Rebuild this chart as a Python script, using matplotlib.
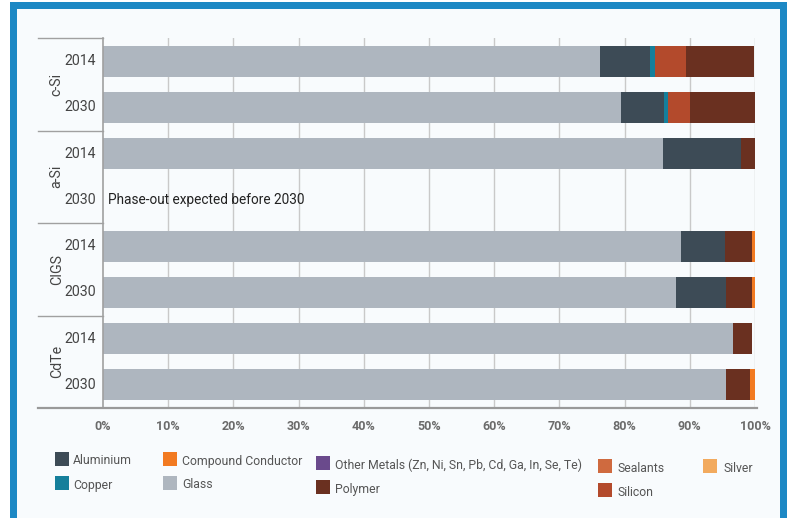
import matplotlib
matplotlib.use("Agg")
import matplotlib.pyplot as plt
from matplotlib.patches import Rectangle
import numpy as np

# ---- data ----
groups = ["c-Si", "a-Si", "CIGS", "CdTe"]
years = ["2014", "2030"]
row_labels = ["c-Si 2014", "c-Si 2030", "a-Si 2014", "a-Si 2030",
              "CIGS 2014", "CIGS 2030", "CdTe 2014", "CdTe 2030"]
glass = [76.2, 79.5, 85.9, 0, 88.6, 87.9, 96.7, 95.5]
aluminium = [7.7, 6.5, 11.9, 0, 6.8, 7.7, 0, 0]
copper = [0.8, 0.7, 0, 0, 0, 0, 0, 0]
silicon = [4.7, 3.4, 0, 0, 0, 0, 0, 0]
polymer = [10.4, 9.9, 2.2, 0, 4.2, 4.0, 2.9, 3.8]
compound_conductor = [0, 0, 0, 0, 0.4, 0.4, 0, 0.7]
other_metals = [0, 0, 0, 0, 0, 0, 0, 0]
sealants = [0, 0, 0, 0, 0, 0, 0, 0]
silver = [0, 0, 0, 0, 0, 0, 0, 0]
xticks = [0, 10, 20, 30, 40, 50, 60, 70, 80, 90, 100]
xtick_labels = [f"{v}%" for v in xticks]
note = "Phase-out expected before 2030"

colors = {
    "Glass": "#aeb6bf",
    "Aluminium": "#3d4b56",
    "Copper": "#157f9b",
    "Silicon": "#b34a2c",
    "Polymer": "#6a3020",
    "Compound Conductor": "#f27a21",
    "Other Metals (Zn, Ni, Sn, Pb, Cd, Ga, In, Se, Te)": "#6a4a8c",
    "Sealants": "#cf6a3f",
    "Silver": "#f2aa5e",
}

stack = [("Glass", glass), ("Aluminium", aluminium), ("Copper", copper),
         ("Silicon", silicon), ("Polymer", polymer),
         ("Compound Conductor", compound_conductor),
         ("Other Metals (Zn, Ni, Sn, Pb, Cd, Ga, In, Se, Te)", other_metals),
         ("Sealants", sealants), ("Silver", silver)]

plt.rcParams['font.family'] = ['Roboto', 'DejaVu Sans']

W, H = 790, 518
fig = plt.figure(figsize=(W / 100, H / 100), dpi=100)
fig.patch.set_facecolor("white")

def fx(px):
    return px / W

def fy(py):
    return 1 - py / H

# border frame
fig.patches.append(Rectangle((fx(10), 0), fx(787) - fx(10), fy(2), transform=fig.transFigure,
                             facecolor="#1c88c4", edgecolor="none", zorder=-10))
fig.patches.append(Rectangle((fx(17), 0), fx(780) - fx(17), fy(9), transform=fig.transFigure,
                             facecolor="#f8fbfd", edgecolor="none", zorder=-9))

ax = fig.add_axes([fx(103), fy(408), fx(755) - fx(103), fy(38) - fy(408)])
ax.set_facecolor("none")

n = len(row_labels)
ypos = np.arange(n)
left = np.zeros(n)
for name, vals in stack:
    vals = np.array(vals, dtype=float)
    ax.barh(ypos, vals, left=left, height=0.67, color=colors[name],
            edgecolor="none", zorder=3)
    left += vals

ax.set_ylim(n - 0.5, -0.5)
ax.set_xlim(0, 100)
ax.set_xticks(xticks)
ax.set_xticklabels(xtick_labels, fontsize=9, fontweight="bold", color="#6b6b6b")
ax.set_yticks([])
ax.tick_params(axis="x", length=0, pad=9)
for x in xticks[1:]:
    ax.axvline(x, color="#c9c9c9", lw=1, zorder=1)
for s in ["top", "right", "left", "bottom"]:
    ax.spines[s].set_visible(False)

# axis lines
gx0 = (38 - 103) / 652
ytr = ax.get_yaxis_transform()
ax.plot([0, 0], [-0.5, n - 0.5], color="#a0a0a0", lw=1.2, clip_on=False, zorder=4)
ax.plot([gx0, 1.003], [0, 0], color="#999999", lw=1.6, clip_on=False,
        transform=ax.transAxes, zorder=4)
for b in [-0.5, 1.5, 3.5, 5.5]:
    ax.plot([gx0, 0], [b, b], color="#a0a0a0", lw=1.0, clip_on=False,
            transform=ytr, zorder=4)

# row and group labels
for i in range(n):
    ax.text(-0.011, i, years[i % 2], transform=ytr, ha="right", va="center",
            fontsize=10.2, color="#444444")
for g, name in enumerate(groups):
    ax.text(-0.071, 2 * g + 0.5, name, transform=ytr, ha="center", va="center",
            rotation=90, fontsize=10.2, color="#444444")

ax.text(0.8, 3, note, ha="left", va="center", fontsize=9.8, color="#222222", zorder=5)

# legend (manual)
legend_items = [
    ("Aluminium", 55, 459, 73),
    ("Copper", 55, 483, 73),
    ("Compound Conductor", 163, 459, 182),
    ("Glass", 163, 483, 182),
    ("Other Metals (Zn, Ni, Sn, Pb, Cd, Ga, In, Se, Te)", 316, 463, 335),
    ("Polymer", 316, 487, 335),
    ("Sealants", 598, 466, 618),
    ("Silicon", 598, 490, 618),
    ("Silver", 703, 466, 723),
]
sw = 14
for name, sx, cy, tx in legend_items:
    fig.patches.append(Rectangle((fx(sx), fy(cy + sw / 2)), sw / W, sw / H,
                                 transform=fig.transFigure, facecolor=colors[name],
                                 edgecolor="none"))
    fig.text(fx(tx), fy(cy + 2), name, ha="left", va="center", fontsize=8.8,
             color="#555555")

fig.savefig("out.png", dpi=100)
